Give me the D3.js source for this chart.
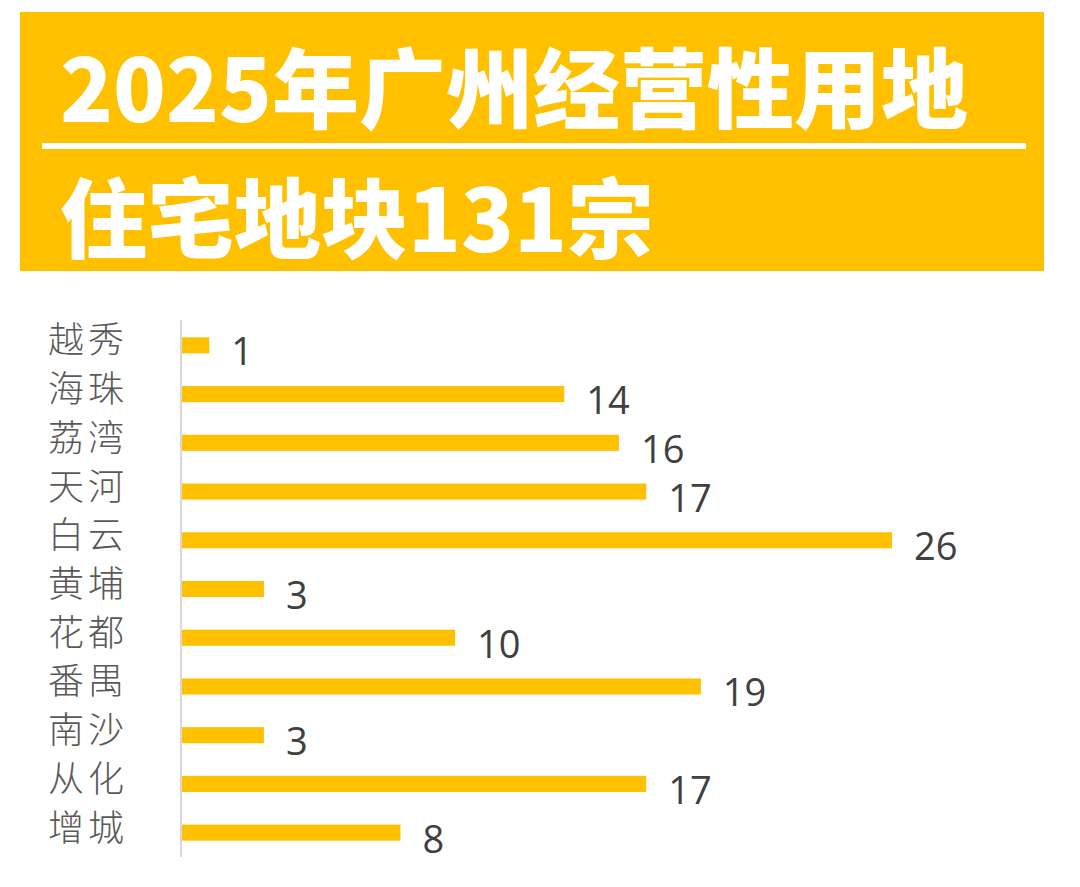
<!DOCTYPE html>
<html>
<head>
<meta charset="utf-8">
<script src="https://cdn.jsdelivr.net/npm/d3@7"></script>
<style>
  html, body { margin: 0; padding: 0; background: #ffffff; }
  svg { display: block; }
</style>
</head>
<body>
<svg id="chart" width="1080" height="887"></svg>
<script>
const titleLines = ["2025年广州经营性用地", "住宅地块131宗"];
const categories = ["越秀", "海珠", "荔湾", "天河", "白云", "黄埔", "花都", "番禺", "南沙", "从化", "增城"];
const values = [1, 14, 16, 17, 26, 3, 10, 19, 3, 17, 8];

const svg = d3.select("#chart");
const gold = "#FFC000";

// Banner
svg.append("rect").attr("x", 20).attr("y", 12).attr("width", 1024).attr("height", 259).attr("fill", gold);
svg.append("rect").attr("x", 42).attr("y", 143).attr("width", 984).attr("height", 6).attr("fill", "#ffffff");

svg.selectAll("text.title").data(titleLines).enter().append("text")
  .attr("class", "title")
  .attr("x", 60)
  .attr("y", (d, i) => i === 0 ? 122 : 252)
  .attr("fill", "#ffffff")
  .style("font-family", "'Noto Sans CJK SC', 'Noto Sans', sans-serif")
  .style("font-weight", 900)
  .style("font-size", "87px")
  .text(d => d);

// Chart
const x = d3.scaleLinear().domain([0, 26]).range([182, 892]);
const y = d3.scaleBand().domain(categories).range([321, 857]).paddingInner(0.67).paddingOuter(0.335);

svg.append("line")
  .attr("x1", 181).attr("x2", 181)
  .attr("y1", 320).attr("y2", 857)
  .attr("stroke", "#d9d9d9").attr("stroke-width", 2);

const data = categories.map((c, i) => ({ c, v: values[i] }));

svg.selectAll("rect.bar").data(data).enter().append("rect")
  .attr("class", "bar")
  .attr("x", x(0))
  .attr("y", d => y(d.c))
  .attr("width", d => x(d.v) - x(0))
  .attr("height", y.bandwidth())
  .attr("fill", gold);

svg.selectAll("text.cat").data(data).enter().append("text")
  .attr("class", "cat")
  .attr("x", 48)
  .attr("y", d => y(d.c) + y.bandwidth() / 2 - 8)
  .attr("dominant-baseline", "central")
  .attr("fill", "#595959")
  .style("font-family", "'Noto Sans CJK SC', sans-serif")
  .style("font-weight", 300)
  .style("font-size", "36px")
  .style("letter-spacing", "4px")
  .text(d => d.c);

svg.selectAll("text.val").data(data).enter().append("text")
  .attr("class", "val")
  .attr("x", d => x(d.v) + 22)
  .attr("y", d => y(d.c) + y.bandwidth() / 2 + 5)
  .attr("dominant-baseline", "central")
  .attr("fill", "#404040")
  .style("font-family", "'Open Sans', 'Noto Sans', sans-serif")
  .style("font-size", "38px")
  .text(d => d.v);
</script>
</body>
</html>
